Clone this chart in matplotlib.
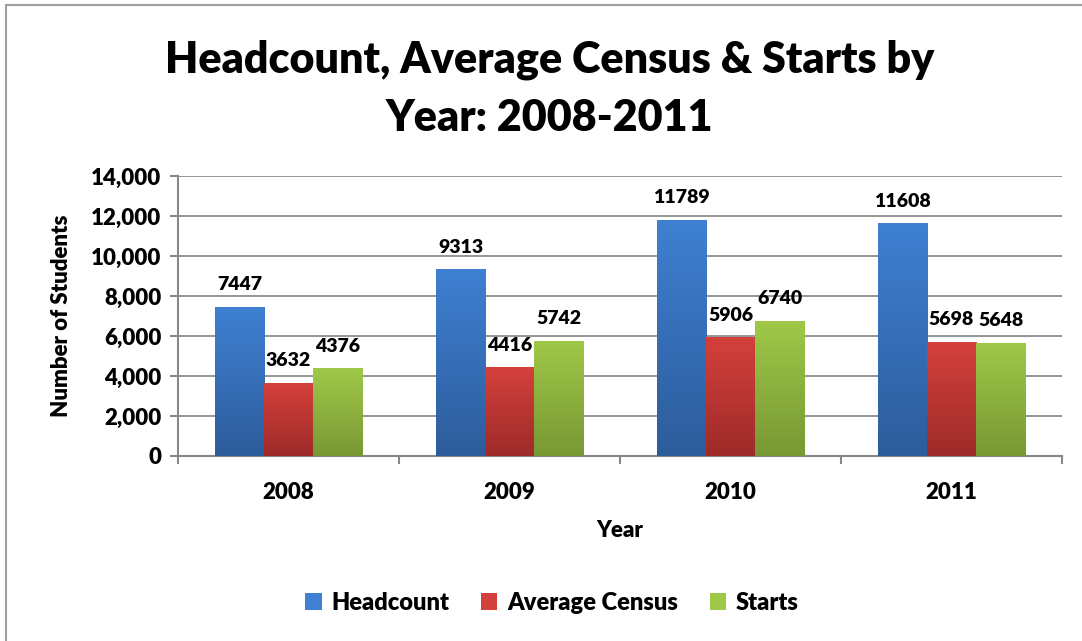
import matplotlib.pyplot as plt
import numpy as np
from matplotlib.colors import LinearSegmentedColormap
from matplotlib.patches import Rectangle

years = ["2008", "2009", "2010", "2011"]
headcount = [7447, 9313, 11789, 11608]
avg_census = [3632, 4416, 5906, 5698]
starts = [4376, 5742, 6740, 5648]

series_names = ["Headcount", "Average Census", "Starts"]
series_values = [headcount, avg_census, starts]
# (top colour, bottom colour) of the vertical gradient
series_colors = [("#3f80d2", "#2d5c9b"), ("#d4403c", "#9e2b29"), ("#9fc848", "#789834")]

plt.rcParams['font.family'] = ['Lato', 'DejaVu Sans']
plt.rcParams['font.weight'] = 'heavy'
W = 'heavy'

fig = plt.figure(figsize=(10.82, 6.41), dpi=100)
ax = fig.add_axes([178 / 1082, 185 / 641, 884 / 1082, 280 / 641])

# chart frame (only left/top visible in reference)
fig.patches.append(Rectangle((6 / 1082, -0.1), 1.2, (636 / 641) + 0.1, transform=fig.transFigure,
                             fill=False, edgecolor="#a0a0a0", linewidth=1.5))

width = 0.222
x = np.arange(len(years))
grad = np.linspace(0, 1, 256).reshape(-1, 1)

for i, (name, vals, (ctop, cbot)) in enumerate(zip(series_names, series_values, series_colors)):
    cmap = LinearSegmentedColormap.from_list(name, [cbot, ctop])
    offset = (i - 1) * width
    for xi, v in zip(x, vals):
        left = xi + offset - width / 2
        ax.imshow(grad, cmap=cmap, aspect='auto', origin='lower',
                  extent=(left, left + width, 0, v), zorder=3)
        ax.annotate(str(v), (xi + offset, v), xytext=(0, 10), textcoords='offset points',
                    ha='center', va='bottom', fontsize=14, fontweight=W)
    ax.bar([0], [0], color=ctop, label=name)

ax.set_xlim(-0.5, len(years) - 0.5)
ax.set_ylim(0, 14000)
ax.set_yticks(range(0, 14001, 2000))
ax.set_yticklabels([f"{v:,}" for v in range(0, 14001, 2000)], fontsize=16, fontweight=W)
ax.set_xticks(x)
ax.set_xticklabels(years, fontsize=16, fontweight=W)
ax.set_xticks(np.arange(-0.5, len(years)), minor=True)
ax.tick_params(axis='x', which='major', length=0, pad=19)
ax.tick_params(axis='x', which='minor', length=6, color="#888888", width=1.5)
ax.tick_params(axis='y', length=6, color="#888888", width=1.5, pad=6)

ax.grid(axis='y', color="#8c8c8c", linewidth=1.3, zorder=0)
ax.set_axisbelow(True)
for side in ['top', 'right']:
    ax.spines[side].set_visible(False)
for side in ['left', 'bottom']:
    ax.spines[side].set_color("#888888")
    ax.spines[side].set_linewidth(1.5)

ax.set_xlabel("Year", fontsize=16, fontweight=W, labelpad=12)
ax.set_ylabel("Number of Students", fontsize=16, fontweight=W, labelpad=14)

fig.text(0.508, 0.861, "Headcount, Average Census & Starts by\nYear: 2008-2011",
         ha='center', va='center', fontsize=31, fontweight=W, linespacing=1.55)

fig.legend(loc='center', bbox_to_anchor=(0.51, 0.06), ncol=3, frameon=False,
           fontsize=17, handlelength=0.7, handleheight=0.7, columnspacing=1.35, handletextpad=0.4)

fig.savefig("out.png", dpi=100)
